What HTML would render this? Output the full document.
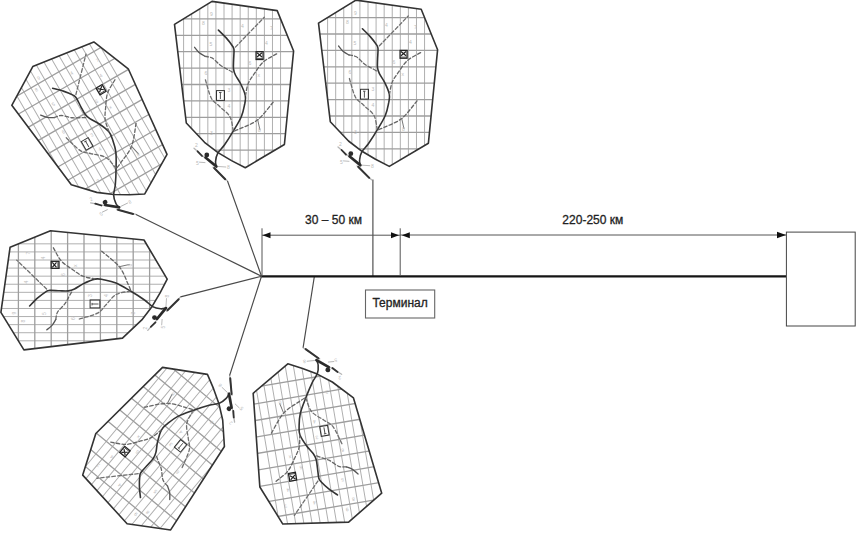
<!DOCTYPE html>
<html><head><meta charset="utf-8"><style>
html,body{margin:0;padding:0;background:#fff;}
body{width:857px;height:543px;overflow:hidden;position:relative;}
svg{position:absolute;left:0;top:0;}
text{font-family:"Liberation Sans",sans-serif;}
</style></head><body>
<svg width="857" height="543" viewBox="0 0 857 543">
<defs><g id="blk">
<clipPath id="cp"><polygon points="174.5,24.4 212.0,1.4 277.2,10.6 293.6,51.0 284.4,144.5 245.3,167.7 231.5,160.6 218.0,152.6 204.5,142.3 186.3,123.0"/></clipPath>
<path d="M183.60,0V175M191.68,0V175M199.76,0V175M207.84,0V175M215.92,0V175M224.00,0V175M232.08,0V175M240.16,0V175M248.24,0V175M256.32,0V175M264.40,0V175M272.48,0V175M280.56,0V175" stroke="#b0b0b0" stroke-width="1.0" fill="none" clip-path="url(#cp)"/>
<path d="M170,18.90H300M170,35.30H300M170,51.70H300M170,68.10H300M170,84.50H300M170,100.90H300M170,117.30H300M170,133.70H300M170,150.10H300" stroke="#9e9e9e" stroke-width="1.3" fill="none" clip-path="url(#cp)"/>
<polygon points="174.5,24.4 212.0,1.4 277.2,10.6 293.6,51.0 284.4,144.5 245.3,167.7 231.5,160.6 218.0,152.6 204.5,142.3 186.3,123.0" fill="none" stroke="#333" stroke-width="1.6" stroke-linejoin="round"/>
<g fill="none" stroke-linecap="round">
<path d="M218.4,30.1 C219.7,31.4 223.8,35.2 226.2,37.9 C228.6,40.6 231.3,44.2 232.6,46.2 C233.9,48.2 233.8,47.7 234.0,50.0 C234.2,52.3 233.7,56.9 233.6,60.0 C233.5,63.1 233.2,66.3 233.5,68.8 C233.8,71.3 234.2,72.5 235.4,75.0 C236.6,77.5 238.8,80.1 240.5,83.5 C242.2,86.9 244.6,92.1 245.3,95.5 C246.0,98.9 245.3,100.5 244.7,104.0 C244.0,107.5 243.3,111.9 241.4,116.5 C239.5,121.1 235.9,126.7 233.1,131.4 C230.3,136.2 226.9,141.4 224.4,145.0 C221.9,148.6 219.3,150.4 217.8,153.1 C216.3,155.8 215.8,159.0 215.6,161.2 C215.3,163.4 216.2,165.5 216.3,166.4" stroke="#333" stroke-width="1.6"/>
<path d="M194.6,47.3 C195.3,48.2 197.3,51.0 199.0,52.5 C200.7,54.0 204.0,55.7 205.0,56.3" stroke="#555" stroke-width="1.3"/>
<path d="M205.0,56.3 C206.2,56.6 209.8,56.6 212.4,58.1 C215.0,59.6 217.9,63.5 220.7,65.5 C223.4,67.5 226.8,68.9 228.9,70.1 C231.0,71.3 232.7,72.4 233.5,72.9" stroke="#666" stroke-width="1.3" stroke-dasharray="3.5 2.2"/>
<path d="M235.4,47.1 C240.2,42.1 259.5,22.2 264.3,17.2" stroke="#707070" stroke-width="1.3" stroke-dasharray="3.5 2.2"/>
<path d="M276.6,53.9 C274.5,55.2 267.4,58.4 263.7,61.6 C260.0,64.8 257.3,69.5 254.7,73.2 C252.1,76.9 249.7,79.8 248.2,83.5 C246.7,87.2 246.0,93.2 245.6,95.1" stroke="#666" stroke-width="1.3" stroke-dasharray="3.5 2.2"/>
<path d="M205.4,79.8 C206.4,82.8 208.9,93.6 211.2,98.0 C213.5,102.4 216.3,103.2 219.4,106.3 C222.5,109.4 227.5,112.5 229.8,116.5 C232.1,120.5 232.6,127.8 233.1,130.0" stroke="#707070" stroke-width="1.3" stroke-dasharray="3.5 2.2"/>
<path d="M273.1,102.2 C270.5,105.1 263.2,115.4 257.7,119.8 C252.2,124.2 244.0,126.8 240.0,128.7 C236.0,130.6 234.6,130.9 233.5,131.4" stroke="#666" stroke-width="1.3" stroke-dasharray="3.5 2.2"/>
<path d="M257.7,119.8 L259.9,129.8" stroke="#777" stroke-width="1"/>
</g>
<rect x="216.5" y="90.6" width="8" height="9.8" fill="none" stroke="#333" stroke-width="1"/>
<path d="M220.4,92.5 V99 M219,92.5 H221.5" stroke="#444" stroke-width="0.9"/>
<g fill="#bbb" font-size="5" font-family="Liberation Sans">
<text x="202" y="25">8</text><text x="210" y="16">9</text><text x="241" y="28">4</text><text x="265" y="45">4</text>
<text x="257.5" y="77">x</text><text x="248.5" y="65">6</text><text x="209.5" y="46">5</text><text x="204.5" y="75">6</text>
<text x="227.5" y="92">3</text><text x="227.5" y="108">4</text><text x="196" y="165">5</text><text x="227" y="169">8</text>
<text x="258" y="132">8</text><text x="210" y="135">3</text><text x="270" y="30">7</text><text x="195" y="147">2</text>
</g>
<rect x="256.1" y="51.7" width="7" height="7.8" fill="#fff" stroke="#222" stroke-width="1.3"/>
<path d="M257,52.8 L262,57 M262,52.8 L257,57" stroke="#222" stroke-width="1.2"/>
<path d="M256.5,58.4 H262.7" stroke="#333" stroke-width="0.8"/>
<g stroke-linecap="round" fill="none">
<path d="M194,148.3 L216,167.5 M213,167.2 L227.5,181" stroke="#b5b5b5" stroke-width="1.3"/>
<path d="M197.6,151.3 L202,156" stroke="#333" stroke-width="1.8"/>
<path d="M205.5,157.5 L216.5,166.5" stroke="#2a2a2a" stroke-width="2.6"/>
<path d="M214.2,168 L225.2,179.2" stroke="#333" stroke-width="2"/>
<path d="M199.5,162.2 L205,162.6 M218.4,166.5 L225.8,167" stroke="#aaa" stroke-width="0.8"/>
</g>
<circle cx="206.8" cy="155" r="2.4" fill="#2a2a2a"/>
</g></defs>
<rect width="857" height="543" fill="#fff"/>
<g>
<use href="#blk" transform="translate(87.1,143.9) rotate(-30) translate(-220.4,-95.5)"/>
<use href="#blk" transform="translate(220.4,95.5) rotate(0) translate(-220.4,-95.5)"/>
<use href="#blk" transform="translate(364.4,94.2) rotate(0) translate(-220.4,-95.5)"/>
<use href="#blk" transform="translate(95,304) rotate(-90) translate(-220.4,-95.5)"/>
<use href="#blk" transform="translate(180.6,445.9) rotate(219.6) translate(-220.4,-95.5)"/>
<use href="#blk" transform="translate(324.5,430.8) rotate(170.3) translate(-220.4,-95.5)"/>
<path d="M136.0,214.4 L261.5,276.2 M227.5,181.0 L261.5,276.2 M372.9,179.5 V276 M180.5,296.9 L261.5,276.2 M229.6,375.5 L261.5,276.2 M303.1,347.7 L314.4,276.2" stroke="#4a4a4a" stroke-width="1.15" fill="none"/>
<path d="M261.5,276.3 H786" stroke="#151515" stroke-width="2.3"/>
<g stroke="#555" stroke-width="1" fill="none">
<path d="M262,228.3 V276 M400.2,228.3 V276 M262,235.2 H400.4 M400.4,235 H786"/>
</g>
<g fill="#111">
<path d="M262.5,235.2 l8,-3 v6 z"/>
<path d="M399,235.2 l-8,-3 v6 z"/>
<path d="M401.8,235.2 l8,-3 v6 z"/>
<path d="M786,235 l-9,-3.2 v6.4 z"/>
</g>
<rect x="365.5" y="290" width="69.2" height="28" fill="#fff" stroke="#666" stroke-width="1.1"/>
<rect x="786.4" y="232.1" width="68.8" height="93.9" fill="#fff" stroke="#444" stroke-width="1"/>
<text x="333.5" y="224.1" font-size="12" text-anchor="middle" fill="#222" stroke="#222" stroke-width="0.3">30 – 50 км</text>
<text x="592.8" y="223.5" font-size="12" text-anchor="middle" fill="#222" stroke="#222" stroke-width="0.3">220-250 км</text>
<text x="400.1" y="306.6" font-size="12" text-anchor="middle" fill="#222" stroke="#222" stroke-width="0.3">Терминал</text>
</g>
</svg>
</body></html>
